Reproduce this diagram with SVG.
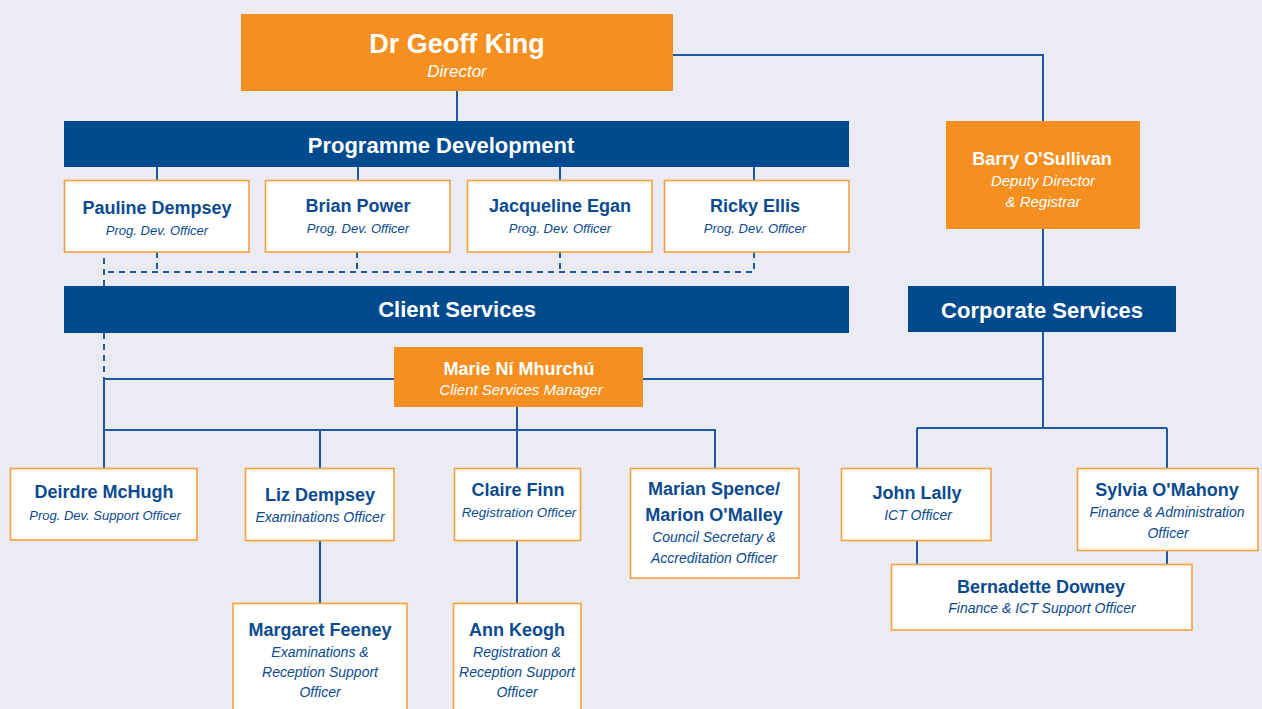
<svg xmlns="http://www.w3.org/2000/svg" width="1262" height="709" viewBox="0 0 1262 709">
<style>
.bg{fill:#EBEBF4}
.org{fill:#F58F20}
.bar{fill:#004A8D}
.box{fill:#FFFFFF;stroke:#F6A040;stroke-width:1.6}
.ln{fill:none;stroke:#1F5AA0;stroke-width:2}
.dash{fill:none;stroke:#1F5AA0;stroke-width:2;stroke-dasharray:6 5}
text{font-family:"Liberation Sans",Arial,sans-serif;text-anchor:middle}
.wn{fill:#FFFFFF;font-weight:bold;font-size:18px}
.wr{fill:#FFFFFF;font-style:italic;font-size:15px}
.bt{fill:#FFFFFF;font-weight:bold;font-size:22px}
.n{fill:#0B4A8E;font-weight:bold;font-size:18px}
.r{fill:#0B4A8E;font-style:italic;font-size:14px}
.rp{fill:#0B4A8E;font-style:italic;font-size:13px}
</style>
<rect class="bg" x="0" y="0" width="1262" height="709"/>
<g id="connectors">
<path class="ln" d="M457 91V121"/>
<path class="ln" d="M673 55H1043V121"/>
<path class="ln" d="M1043 229V286"/>
<path class="ln" d="M157 167V180M358 167V180M560 167V180M754 167V180"/>
<path class="dash" d="M157 252V272M357 252V272M560 252V272M754 252V272H104M104 258V286"/>
<path class="dash" d="M104 333V379"/>
<path class="ln" d="M104 379H394M643 379H1043"/>
<path class="ln" d="M104 379V468"/>
<path class="ln" d="M517 407V430M104 430H715V468M320 430V468M517 430V468"/>
<path class="ln" d="M320 541V603M517 541V603"/>
<path class="ln" d="M1043 332V428M917 428H1167M917 428V468M1167 428V468"/>
<path class="ln" d="M917 541V564M1167 551V564"/>
</g>
<g id="geoff-king">
<rect class="org" x="241" y="14" width="432" height="77"/>
<text class="wn" x="457" y="53" style="font-size:27px">Dr Geoff King</text>
<text class="wr" x="457" y="77" style="font-size:17px">Director</text>
</g>
<g id="programme-development">
<rect class="bar" x="64" y="121" width="785" height="46"/>
<text class="bt" x="441" y="153">Programme Development</text>
</g>
<g id="barry-osullivan">
<rect class="org" x="946" y="121" width="194" height="108"/>
<text class="wn" x="1042" y="165">Barry O'Sullivan</text>
<text class="wr" x="1043" y="186">Deputy Director</text>
<text class="wr" x="1043" y="207">&amp; Registrar</text>
</g>
<g id="pauline-dempsey">
<rect class="box" x="64.5" y="180.5" width="184.5" height="71.5"/>
<text class="n" x="157" y="214">Pauline Dempsey</text>
<text class="rp" x="157" y="235">Prog. Dev. Officer</text>
</g>
<g id="brian-power">
<rect class="box" x="265.5" y="180.5" width="184.5" height="71.5"/>
<text class="n" x="358" y="212">Brian Power</text>
<text class="rp" x="358" y="233">Prog. Dev. Officer</text>
</g>
<g id="jacqueline-egan">
<rect class="box" x="467.5" y="180.5" width="184.5" height="71.5"/>
<text class="n" x="560" y="212">Jacqueline Egan</text>
<text class="rp" x="560" y="233">Prog. Dev. Officer</text>
</g>
<g id="ricky-ellis">
<rect class="box" x="664.5" y="180.5" width="184.5" height="71.5"/>
<text class="n" x="755" y="212">Ricky Ellis</text>
<text class="rp" x="755" y="233">Prog. Dev. Officer</text>
</g>
<g id="client-services">
<rect class="bar" x="64" y="286" width="785" height="47"/>
<text class="bt" x="457" y="317">Client Services</text>
</g>
<g id="corporate-services">
<rect class="bar" x="908" y="286" width="268" height="46"/>
<text class="bt" x="1042" y="318">Corporate Services</text>
</g>
<g id="marie-ni-mhurchu">
<rect class="org" x="394" y="347" width="249" height="60"/>
<text class="wn" x="519" y="375">Marie Ní Mhurchú</text>
<text class="wr" x="521" y="395">Client Services Manager</text>
</g>
<g id="deirdre-mchugh">
<rect class="box" x="10.5" y="468.5" width="186.5" height="71.5"/>
<text class="n" x="104" y="498">Deirdre McHugh</text>
<text class="rp" x="105" y="520">Prog. Dev. Support Officer</text>
</g>
<g id="liz-dempsey">
<rect class="box" x="245.5" y="468.5" width="148.5" height="72"/>
<text class="n" x="320" y="501">Liz Dempsey</text>
<text class="r" x="320" y="522">Examinations Officer</text>
</g>
<g id="claire-finn">
<rect class="box" x="454.5" y="468.5" width="126" height="72"/>
<text class="n" x="518" y="496">Claire Finn</text>
<text class="r" x="519" y="517" style="font-size:13.4px">Registration Officer</text>
</g>
<g id="marian-spence">
<rect class="box" x="630.5" y="468.5" width="168.5" height="109.5"/>
<text class="n" x="714" y="495">Marian Spence/</text>
<text class="n" x="714" y="521">Marion O'Malley</text>
<text class="r" x="714" y="542">Council Secretary &amp;</text>
<text class="r" x="714" y="563">Accreditation Officer</text>
</g>
<g id="john-lally">
<rect class="box" x="841.5" y="468.5" width="149.5" height="72"/>
<text class="n" x="917" y="499">John Lally</text>
<text class="r" x="918" y="520">ICT Officer</text>
</g>
<g id="sylvia-omahony">
<rect class="box" x="1077.5" y="468.5" width="180.5" height="82"/>
<text class="n" x="1167" y="496">Sylvia O'Mahony</text>
<text class="r" x="1167" y="517">Finance &amp; Administration</text>
<text class="r" x="1168" y="538">Officer</text>
</g>
<g id="bernadette-downey">
<rect class="box" x="891.5" y="564.5" width="300.5" height="65.5"/>
<text class="n" x="1041" y="593">Bernadette Downey</text>
<text class="r" x="1042" y="613">Finance &amp; ICT Support Officer</text>
</g>
<g id="margaret-feeney">
<rect class="box" x="233" y="603.5" width="174" height="120"/>
<text class="n" x="320" y="636">Margaret Feeney</text>
<text class="r" x="320" y="657">Examinations &amp;</text>
<text class="r" x="320" y="677">Reception Support</text>
<text class="r" x="320" y="697">Officer</text>
</g>
<g id="ann-keogh">
<rect class="box" x="453.5" y="603.5" width="127.5" height="120"/>
<text class="n" x="517" y="636">Ann Keogh</text>
<text class="r" x="517" y="657">Registration &amp;</text>
<text class="r" x="517" y="677">Reception Support</text>
<text class="r" x="517" y="697">Officer</text>
</g>
</svg>
